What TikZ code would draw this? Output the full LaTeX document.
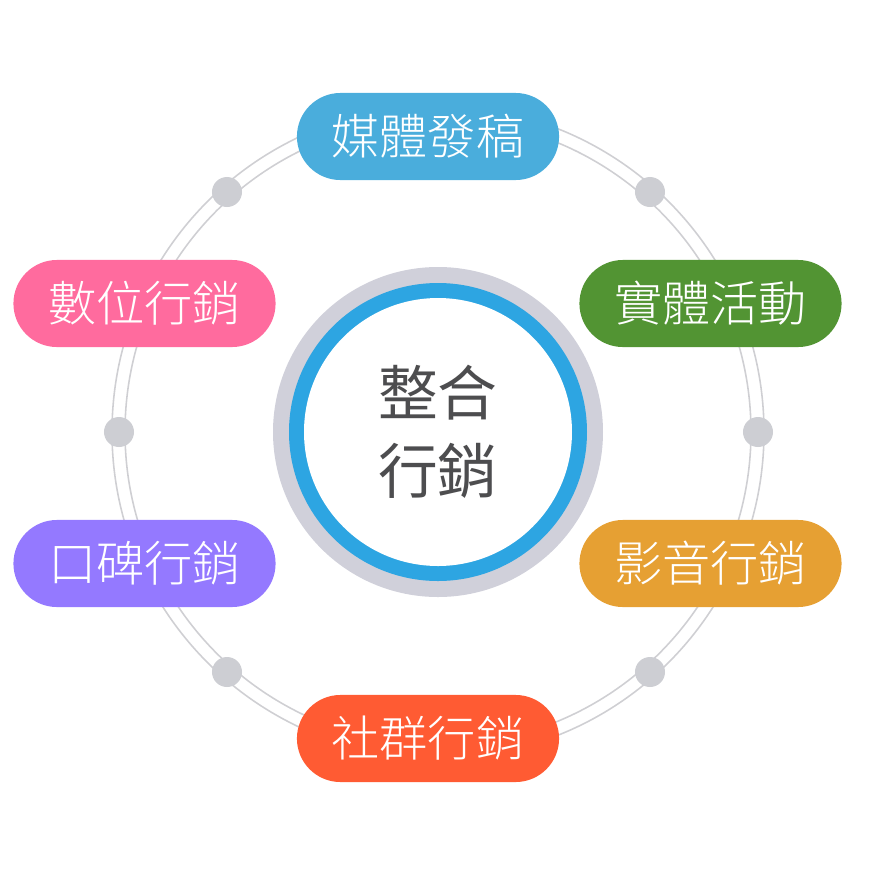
\documentclass[tikz,border=0pt]{standalone}
\usepackage{fontspec}
\newfontfamily\cjk{Noto Sans CJK TC}
\IfFontExistsTF{Noto Sans CJK TC Light}
	{\newfontfamily\cjklight{Noto Sans CJK TC Light}}
	{\newfontfamily\cjklight{Noto Sans CJK TC}}
\usepackage{xcolor}
\definecolor{ringgray}{HTML}{CFCFD3}
\definecolor{dotgray}{HTML}{CDCED3}
\definecolor{halogray}{HTML}{D0D0DA}
\definecolor{corebl}{HTML}{2DA5E2}
\definecolor{coretext}{HTML}{4D4D4F}
\definecolor{mediabl}{HTML}{4AADDC}
\definecolor{eventgr}{HTML}{529433}
\definecolor{digipk}{HTML}{FF6B9E}
\definecolor{wordpu}{HTML}{9479FF}
\definecolor{videoor}{HTML}{E6A033}
\definecolor{socialrd}{HTML}{FF5B33}

\begin{document}
\begin{tikzpicture}[
			x=0.01cm, y=-0.01cm,
			pill/.style={rectangle, rounded corners=0.435cm, minimum width=2.62cm, minimum height=0.87cm, inner sep=0pt, text=white, font=\cjklight\fontsize{13.7}{16}\selectfont},
			dot/.style={circle, fill=dotgray, minimum size=0.3cm, inner sep=0pt},
			ring/.style={draw=ringgray, line width=0.45pt}
			]
			\useasboundingbox (0,0) rectangle (875,875);
			
			%==================== 外圈 ====================
			\coordinate (c) at (438,432);
			\draw[ring] (c) circle[radius=313];
			\draw[ring] (c) circle[radius=326];
			
			\node[dot] (d1) at (227,192) {};
			\node[dot] (d2) at (650,192) {};
			\node[dot] (d3) at (119,432) {};
			\node[dot] (d4) at (758,432) {};
			\node[dot] (d5) at (227,672) {};
			\node[dot] (d6) at (650,672) {};
			
			%==================== 各項行銷 ====================
			\node[pill, fill=mediabl] (media) at (428,136.5) {媒體發稿};
			\node[pill, fill=eventgr] (event) at (710.5,303.5) {實體活動};
			\node[pill, fill=digipk] (digital) at (144.5,303.5) {數位行銷};
			\node[pill, fill=wordpu] (word) at (144.5,563.5) {口碑行銷};
			\node[pill, fill=videoor] (video) at (710.5,563.5) {影音行銷};
			\node[pill, fill=socialrd] (social) at (428,738.5) {社群行銷};
			
			%==================== 整合行銷 ====================
			\fill[halogray] (c) circle[radius=165];
			\fill[corebl] (c) circle[radius=149];
			\fill[white] (c) circle[radius=134];
			\node[align=center, text=coretext, font=\cjk\fontsize{17}{22.2}\selectfont] (core) at (c) {整合\\行銷};
			
		\end{tikzpicture}
\end{document}
